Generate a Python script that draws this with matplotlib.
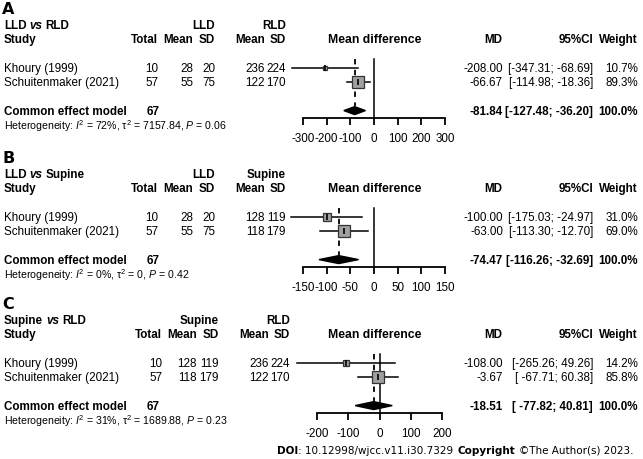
import numpy as np
import matplotlib.pyplot as plt

plt.rcParams['font.family'] = ['Liberation Sans', 'DejaVu Sans']
plt.rcParams['axes.unicode_minus'] = False
plt.rcParams['mathtext.fontset'] = 'custom'
plt.rcParams['mathtext.rm'] = 'Liberation Sans'
plt.rcParams['mathtext.it'] = 'Liberation Sans:italic'

# data
studies = ['Khoury (1999)', 'Schuitenmaker (2021)']
totals = [10, 57]
pooled_total = 67

# A: LLD vs RLD
a_groups = ['LLD', 'RLD']
a_mean1 = [28, 55]
a_sd1 = [20, 75]
a_mean2 = [236, 122]
a_sd2 = [224, 170]
a_md = [-208.00, -66.67]
a_lo = [-347.31, -114.98]
a_hi = [-68.69, -18.36]
a_w = [10.7, 89.3]
a_pool = [-81.84, -127.48, -36.20]
a_het = ['72%', '7157.84', '0.06']
a_ticks = [-300, -200, -100, 0, 100, 200, 300]

# B: LLD vs Supine
b_groups = ['LLD', 'Supine']
b_mean1 = [28, 55]
b_sd1 = [20, 75]
b_mean2 = [128, 118]
b_sd2 = [119, 179]
b_md = [-100.00, -63.00]
b_lo = [-175.03, -113.30]
b_hi = [-24.97, -12.70]
b_w = [31.0, 69.0]
b_pool = [-74.47, -116.26, -32.69]
b_het = ['0%', '0', '0.42']
b_ticks = [-150, -100, -50, 0, 50, 100, 150]

# C: Supine vs RLD
c_groups = ['Supine', 'RLD']
c_mean1 = [128, 118]
c_sd1 = [119, 179]
c_mean2 = [236, 122]
c_sd2 = [224, 170]
c_md = [-108.00, -3.67]
c_lo = [-265.26, -67.71]
c_hi = [49.26, 60.38]
c_w = [14.2, 85.8]
c_pool = [-18.51, -77.82, 40.81]
c_het = ['31%', '1689.88', '0.23']
c_ticks = [-200, -100, 0, 100, 200]

panels = [
    ('A', 26, a_groups, a_mean1, a_sd1, a_mean2, a_sd2, a_md, a_lo, a_hi, a_w, a_pool, a_het, a_ticks,
     (303, 445), (-380, 380)),
    ('B', 175, b_groups, b_mean1, b_sd1, b_mean2, b_sd2, b_md, b_lo, b_hi, b_w, b_pool, b_het, b_ticks,
     (303, 445), (-190, 190)),
    ('C', 321, c_groups, c_mean1, c_sd1, c_mean2, c_sd2, c_md, c_lo, c_hi, c_w, c_pool, c_het, c_ticks,
     (317, 442), (-300, 290)),
]

W, H = 643, 460
fig = plt.figure(figsize=(W / 100, H / 100), dpi=100)
bg = fig.add_axes([0, 0, 1, 1])
bg.set_xlim(0, W)
bg.set_ylim(H, 0)
bg.axis('off')
rend = fig.canvas.get_renderer()

FS = 8.4


def chain(x, y, parts, size, **kw):
    # parts: (text, gap after, text options)
    for s, gap, opts in parts:
        t = bg.text(x, y, s, fontsize=size, va='center', **opts, **kw)
        x += t.get_window_extent(renderer=rend).width + gap
    return x


def txt(x, y, s, ha='right', bold=False, size=FS):
    bg.text(x, y, s, ha=ha, va='center', fontsize=size,
            fontweight='bold' if bold else 'normal')


ROW = 14.2
for (lab, y0, groups, m1, s1, m2, s2, md, lo, hi, w, pool, het, ticks, tpx, xlim) in panels:
    sh = 4 if lab == 'C' else 0
    bg.text(2, y0 - 16, lab, fontsize=11.5, fontweight='bold', family='DejaVu Sans',
            va='center', ha='left')
    # headers
    chain(4, y0, [(groups[0], 3, dict(fontweight='bold')),
                  ('vs', 3, dict(fontweight='bold', style='italic')),
                  (groups[1], 0, dict(fontweight='bold'))], FS)
    txt(215 + sh, y0, groups[0], bold=True)
    txt(286 + sh, y0, groups[1], bold=True)
    ys = y0 + 14
    txt(4, ys, 'Study', ha='left', bold=True)
    for xx, s in [(158, 'Total'), (193, 'Mean'), (215, 'SD'), (265, 'Mean'), (286, 'SD')]:
        txt(xx + sh, ys, s, bold=True)
    txt(375, ys, 'Mean difference', ha='center', bold=True, size=8.8)
    txt(502, ys, 'MD', bold=True)
    txt(593, ys, '95%CI', bold=True)
    txt(638, ys, 'Weight', bold=True)
    # study rows
    for i in range(2):
        yr = y0 + 43 + i * ROW
        txt(4, yr, studies[i], ha='left')
        txt(158 + sh, yr, str(totals[i]))
        txt(193 + sh, yr, str(m1[i]))
        txt(215 + sh, yr, str(s1[i]))
        txt(265 + sh, yr, str(m2[i]))
        txt(286 + sh, yr, str(s2[i]))
        txt(503, yr, f'{md[i]:.2f}')
        txt(593, yr, f'[{lo[i]:7.2f}; {hi[i]:.2f}]')
        txt(638, yr, f'{w[i]:.1f}%')
    yc = y0 + 43 + 3 * ROW
    txt(4, yc, 'Common effect model', ha='left', bold=True)
    txt(147, yc, str(pooled_total), ha='left', bold=True)
    txt(503, yc, f'{pool[0]:.2f}', bold=True)
    txt(593, yc, f'[{pool[1]:7.2f}; {pool[2]:.2f}]', bold=True)
    txt(638, yc, '100.0%', bold=True)
    bg.text(4, y0 + 100, 'Heterogeneity: $I^2$ = ' + het[0] + ', τ$^2$ = ' + het[1] +
            ', $P$ = ' + het[2], fontsize=7.6, va='center', ha='left')

    # forest axes
    row1 = y0 + 43
    axis_px = y0 + 93
    top_px = row1 - 0.6 * ROW
    scale = (tpx[1] - tpx[0]) / (ticks[-1] - ticks[0])
    left_px = tpx[0] - (ticks[0] - xlim[0]) * scale
    width_px = (xlim[1] - xlim[0]) * scale
    ax = fig.add_axes([left_px / W, 1 - axis_px / H, width_px / W, (axis_px - top_px) / H])
    ax.set_xlim(*xlim)
    ybot = 1 + (axis_px - row1) / ROW
    ax.set_ylim(ybot, 0.4)
    ax.patch.set_alpha(0)
    for sp in ['top', 'right', 'left']:
        ax.spines[sp].set_visible(False)
    ax.spines['bottom'].set_bounds(ticks[0], ticks[-1])
    ax.spines['bottom'].set_linewidth(1.3)
    ax.set_yticks([])
    ax.set_xticks(ticks)
    ax.tick_params(axis='x', direction='out', length=5, width=1.3, pad=5, labelsize=FS)

    ax.plot([0, 0], [0.4, ybot], color='black', lw=1.1, clip_on=False)
    ax.plot([pool[0], pool[0]], [0.4, 4 - 0.3], color='black', lw=1.3, ls=(0, (3, 3)))
    for i in range(2):
        yr = i + 1
        ax.plot([lo[i], hi[i]], [yr, yr], color='black', lw=1.1, clip_on=False)
        ax.plot(md[i], yr, 's', ms=9.6 * np.sqrt(w[i] / 100), mfc='#a0a0a0', mec='#333333',
                mew=0.9, zorder=3)
        ax.plot(md[i], yr, '|', ms=4, color='black', mew=1.2, zorder=4)
    ax.fill([pool[1], pool[0], pool[2], pool[0]], [4, 4 - 0.28, 4, 4 + 0.28],
            color='black', zorder=3, clip_on=False)

# footer
chain(277, 451, [('DOI', 0, dict(fontweight='bold')),
                 (': 10.12998/wjcc.v11.i30.7329', 4, {}),
                 ('Copyright', 4, dict(fontweight='bold')),
                 ('©The Author(s) 2023.', 0, {})], 7.5, family='DejaVu Sans')

fig.savefig('out.png', dpi=100)
